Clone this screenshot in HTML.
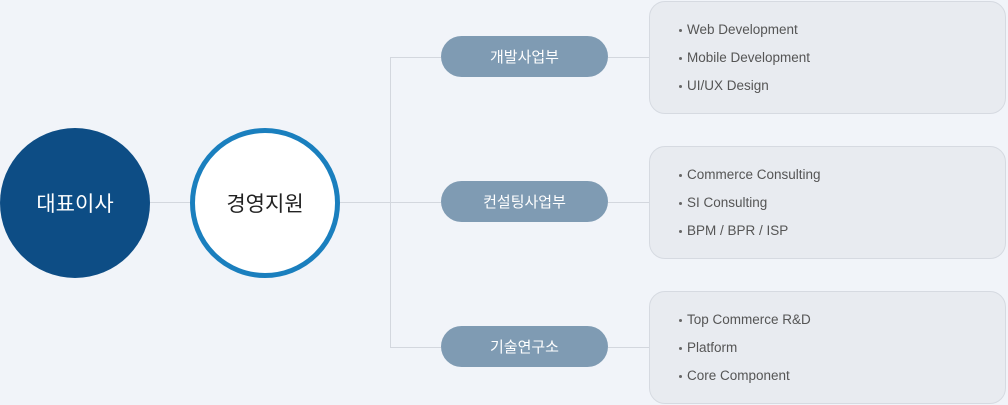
<!DOCTYPE html>
<html><head><meta charset="utf-8"><style>
body{margin:0;width:1008px;height:405px;background:#f1f4f9;position:relative;overflow:hidden;font-family:"Liberation Sans","Noto Sans CJK KR",sans-serif}
.ln{position:absolute;background:#d3d7de}
.c{position:absolute;border-radius:50%;display:flex;align-items:center;justify-content:center;font-size:21px}
.p{position:absolute;left:441px;width:167px;height:41px;border-radius:21px;background:#7f9bb3;color:#fff;font-size:15px;display:flex;align-items:center;justify-content:center}
.b{position:absolute;left:649px;width:357px;height:113px;border:1px solid #d6dae1;border-radius:16px;background:#e8ebf0;box-sizing:border-box}
.b div{position:absolute;left:37px;font-size:13.5px;color:#555;line-height:16px}
.b div:before{content:"";position:absolute;left:-8px;top:7px;width:3px;height:3px;background:#666;border-radius:50%}
</style></head><body>
<div class="ln" style="left:150px;top:202px;width:40px;height:1px"></div>
<div class="ln" style="left:340px;top:202px;width:101px;height:1px"></div>
<div class="ln" style="left:390px;top:57px;width:1px;height:290px"></div>
<div class="ln" style="left:390px;top:57px;width:51px;height:1px"></div>
<div class="ln" style="left:390px;top:347px;width:51px;height:1px"></div>
<div class="ln" style="left:608px;top:57px;width:41px;height:1px"></div>
<div class="ln" style="left:608px;top:202px;width:41px;height:1px"></div>
<div class="ln" style="left:608px;top:347px;width:41px;height:1px"></div>
<div class="c" style="left:0;top:128px;width:150px;height:150px;background:#0d4d85;color:#fff">대표이사</div>
<div class="c" style="left:190px;top:128px;width:150px;height:150px;background:#fff;border:5px solid #1a7fbe;box-sizing:border-box;color:#222">경영지원</div>
<div class="p" style="top:36px">개발사업부</div>
<div class="p" style="top:181px">컨설팅사업부</div>
<div class="p" style="top:326px">기술연구소</div>
<div class="b" style="top:1px"><div style="top:20px">Web Development</div><div style="top:48px">Mobile Development</div><div style="top:76px">UI/UX Design</div></div>
<div class="b" style="top:146px"><div style="top:20px">Commerce Consulting</div><div style="top:48px">SI Consulting</div><div style="top:76px">BPM / BPR / ISP</div></div>
<div class="b" style="top:291px"><div style="top:20px">Top Commerce R&amp;D</div><div style="top:48px">Platform</div><div style="top:76px">Core Component</div></div>
</body></html>
